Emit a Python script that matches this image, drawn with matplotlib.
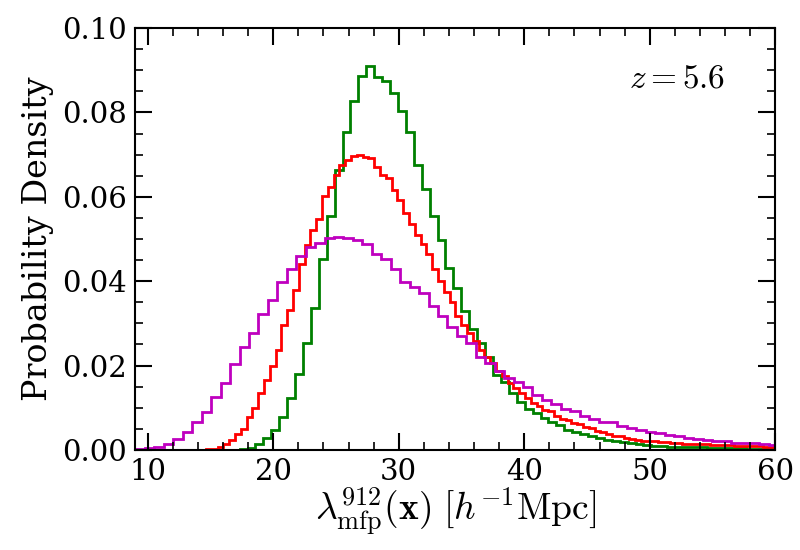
import numpy as np
import matplotlib
matplotlib.use("Agg")
import matplotlib.pyplot as plt
from matplotlib.ticker import MultipleLocator

# ---- data ----
green_start, green_width = 17.32, 0.631
green_vals = [0.0002, 0.0005, 0.0013, 0.0028, 0.0047, 0.0079, 0.0124, 0.0181, 0.0253, 0.0336,
              0.0452, 0.0555, 0.0664, 0.0754, 0.0826, 0.0886, 0.0910, 0.0885, 0.0875, 0.0847,
              0.0804, 0.0754, 0.0675, 0.0618, 0.0555, 0.0498, 0.0432, 0.0383, 0.0330, 0.0287,
              0.0253, 0.0220, 0.0178, 0.0162, 0.0134, 0.0114, 0.0096, 0.0087, 0.0076, 0.0066,
              0.0058, 0.0048, 0.0043, 0.0037, 0.0033, 0.0028, 0.0024, 0.0021, 0.0018, 0.0016,
              0.0013, 0.0012, 0.0010, 0.0009, 0.0008, 0.0008, 0.0007, 0.0006, 0.0006, 0.0005,
              0.0005, 0.0004, 0.0004, 0.0004, 0.0003, 0.0003, 0.0003, 0.0002]

red_start, red_width = 14.65, 0.462
red_vals = [0.0002, 0.0003, 0.0006, 0.0014, 0.0024, 0.0038, 0.0050, 0.0079, 0.0099, 0.0134,
            0.0166, 0.0200, 0.0237, 0.0295, 0.0332, 0.0378, 0.0440, 0.0486, 0.0521, 0.0547,
            0.0602, 0.0624, 0.0652, 0.0675, 0.0687, 0.0697, 0.0699, 0.0694, 0.0691, 0.0670,
            0.0652, 0.0644, 0.0616, 0.0592, 0.0562, 0.0536, 0.0509, 0.0488, 0.0464, 0.0428,
            0.0400, 0.0375, 0.0351, 0.0318, 0.0296, 0.0276, 0.0259, 0.0237, 0.0221, 0.0205,
            0.0186, 0.0174, 0.0158, 0.0146, 0.0134, 0.0123, 0.0111, 0.0104, 0.0095, 0.0092,
            0.0081, 0.0073, 0.0071, 0.0063, 0.0061, 0.0055, 0.0051, 0.0045, 0.0042, 0.0037,
            0.0034, 0.0032, 0.0029, 0.0026, 0.0024, 0.0022, 0.0021, 0.0020, 0.0019, 0.0018,
            0.0017, 0.0016, 0.0015, 0.0015, 0.0014, 0.0013, 0.0013, 0.0012, 0.0012, 0.0011,
            0.0011, 0.0010, 0.0010, 0.0009, 0.0009, 0.0009, 0.0008, 0.0008, 0.0008]

magenta_start, magenta_width = 9.03, 0.753
magenta_vals = [0.0002, 0.0004, 0.0008, 0.0015, 0.0026, 0.0043, 0.0065, 0.0089, 0.0126, 0.0158,
                0.0204, 0.0244, 0.0276, 0.0323, 0.0356, 0.0397, 0.0428, 0.0459, 0.0482, 0.0491,
                0.0503, 0.0505, 0.0502, 0.0498, 0.0487, 0.0464, 0.0452, 0.0430, 0.0397, 0.0386,
                0.0371, 0.0342, 0.0318, 0.0292, 0.0270, 0.0253, 0.0221, 0.0205, 0.0186, 0.0170,
                0.0160, 0.0150, 0.0130, 0.0118, 0.0108, 0.0096, 0.0092, 0.0081, 0.0073, 0.0067,
                0.0065, 0.0057, 0.0051, 0.0048, 0.0043, 0.0039, 0.0036, 0.0033, 0.0028, 0.0026,
                0.0024, 0.0021, 0.0020, 0.0017, 0.0017, 0.0016, 0.0013, 0.0012]

series = [
    (green_start, green_width, green_vals, 'g'),
    (red_start, red_width, red_vals, 'r'),
    (magenta_start, magenta_width, magenta_vals, 'm'),
]

# ---- style ----
plt.rcParams['font.family'] = ['DejaVu Serif']
plt.rcParams['mathtext.fontset'] = 'cm'

fig = plt.figure(figsize=(8, 5.5), dpi=100)
ax = fig.add_axes([0.169, 0.182, 0.800, 0.767])

for start, width, vals, col in series:
    edges = start + width * np.arange(len(vals) + 1)
    ax.stairs(vals, edges, color=col, lw=2.0, baseline=0)

ax.set_xlim(9, 60)
ax.set_ylim(0, 0.10)
ax.xaxis.set_major_locator(MultipleLocator(10))
ax.xaxis.set_minor_locator(MultipleLocator(2))
ax.yaxis.set_major_locator(MultipleLocator(0.02))
ax.yaxis.set_minor_locator(MultipleLocator(0.005))
ax.yaxis.set_major_formatter(matplotlib.ticker.FormatStrFormatter('%.2f'))
ax.tick_params(which='both', direction='in', top=True, right=True, labelsize=21, pad=6)
ax.tick_params(which='major', length=12, width=1.5)
ax.tick_params(which='minor', length=6, width=1.2)
for s in ax.spines.values():
    s.set_linewidth(1.5)

ax.set_xlabel(r'$\lambda_{\rm mfp}^{912}(\mathbf{x})\ [h^{-1}{\rm Mpc}]$', fontsize=27, labelpad=0)
ax.set_ylabel('Probability Density', fontsize=24, labelpad=6)
ax.text(0.847, 0.88, r'$z = 5.6$', transform=ax.transAxes, fontsize=24,
        ha='center', va='center')

fig.savefig('out.png', dpi=100)
